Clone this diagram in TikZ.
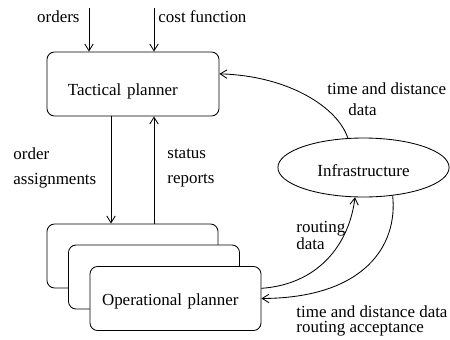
\documentclass[tikz,border=0pt]{standalone}
\usepackage{fontspec}
\setmainfont{Liberation Serif}
\newfontfamily\plannerfont{Liberation Serif}
\usetikzlibrary{arrows.meta,shapes.geometric}

\tikzset{
  planner/.style={draw,fill=white,rounded corners=4.5pt,minimum height=37.8pt,align=left},
  flow/.style={-{Straight Barb[length=4pt,width=5pt]}},
  lbl/.style={inner sep=0pt,align=left}
}

\begin{document}
\begin{tikzpicture}[x=0.59pt,y=-0.59pt,line width=0.5pt,font=\plannerfont]
      \useasboundingbox (0,0) rectangle (450,340);

      \node[planner,inner xsep=12.4pt,text width=76.7pt,text height=15pt,text depth=2pt] (tact) at (133,84) {Tactical planner};

      % stack of operational planners
      \node[planner,minimum width=100.9pt] (op1) at (132.5,256) {};
      \node[planner,minimum width=100.9pt] (op2) at (154,277) {};
      \node[planner,inner xsep=7.1pt,text width=86.7pt,text height=10.2pt,text depth=2pt] (op3) at (175.5,298.5) {Operational planner};

      \node[draw,ellipse,inner sep=0pt,minimum width=101pt,minimum height=34.8pt,text height=11pt,text depth=0pt] (infra) at (363.5,167.5) {Infrastructure};

      \coordinate (ordin) at (89,8);
      \coordinate (costin) at (154,8);
      \coordinate (oa) at (111,0);
      \coordinate (sr) at (154,0);

      \draw[flow] (ordin) -- (ordin |- tact.north);
      \draw[flow] (costin) -- (costin |- tact.north);
      \draw[flow] (tact.south -| oa) -- (op1.north -| oa);
      \draw[flow] (op1.north -| sr) -- (tact.south -| sr);

      \draw[flow] (infra.118) .. controls (338,108) and (290,76) .. ([yshift=6pt]tact.east);
      \draw[flow] ([yshift=6pt]op3.east) .. controls (322,284) and (350,240) .. (infra.254);
      \draw[flow] (infra.316) .. controls (398,245) and (365,298) .. (op3.east);

      % base anchor of a two-line label sits on its last line
      \node[lbl,anchor=base east] (ordlbl) at (80,22) {orders};
      \node[lbl,anchor=base west] (costlbl) at (158,22) {cost function};
      \node[lbl,anchor=base west] (oalbl) at (13,184) {order\\[2.75pt]assignments};
      \node[lbl,anchor=base west] (srlbl) at (167,183) {status\\[2.2pt]reports};
      \node[lbl,anchor=base west] (tdlbl) at (327,115) {time and distance\\\hspace{12.4pt}data};
      \node[lbl,anchor=base west] (rdlbl) at (296,249) {routing\\[-2pt]data};
      \node[lbl,anchor=base west] (ralbl) at (296,332) {time and distance data\\[-3.2pt]routing acceptance};
    \end{tikzpicture}
\end{document}
